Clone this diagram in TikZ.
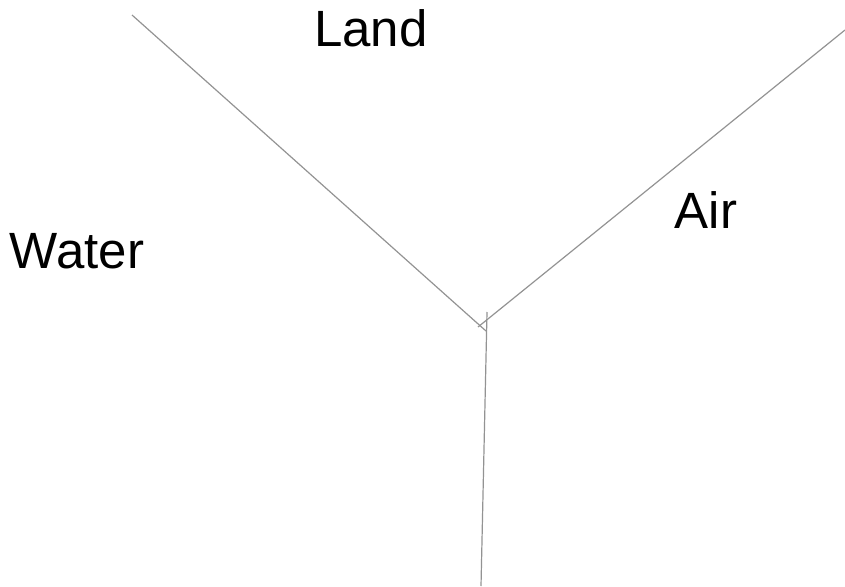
\documentclass[tikz,border=0pt]{standalone}
\usepackage{fontspec}
\setmainfont{Liberation Sans}
\usepackage{tikz}

\begin{document}
\begin{tikzpicture}[x=1pt,y=-1pt,
  border/.style={draw=gray!85, line width=1.2pt},
  region/.style={font=\fontsize{51}{55}\selectfont, inner sep=0pt, anchor=base}]
\useasboundingbox (0,0) rectangle (845,586);

\coordinate (landtop) at (132,15);
\coordinate (landend) at (486,331);
\coordinate (airtop) at (845,30);
\coordinate (airend) at (478,327);
\coordinate (stemtop) at (487,312);
\coordinate (stemend) at (481,586);

\draw[border] (landtop) -- (landend);
\draw[border] (airtop) -- (airend);
\draw[border] (stemtop) -- (stemend);

\node[region] (land) at (371,46) {Land};
\node[region] (air) at (706,228) {Air};
\node[region] (water) at (77,268) {Water};

\end{tikzpicture}
\end{document}
